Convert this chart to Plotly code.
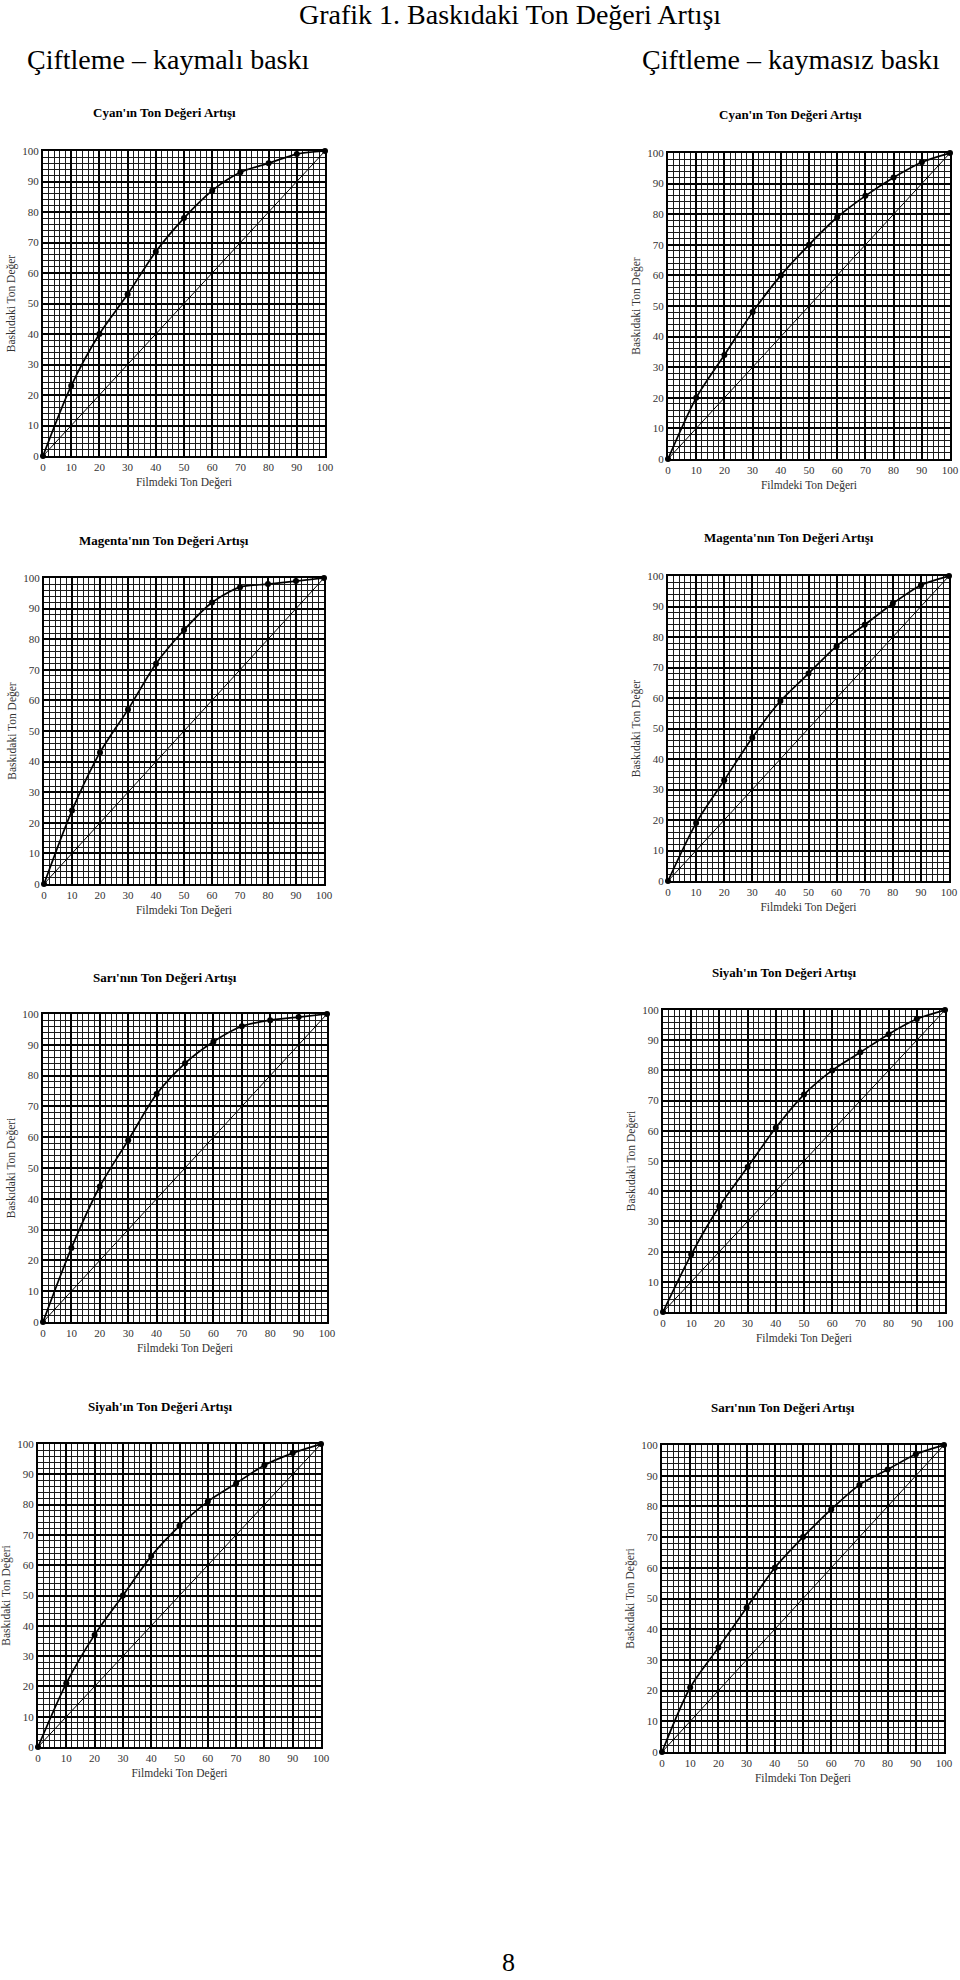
import plotly.graph_objects as go

W, H = 960, 1980

film_x = [0, 10, 20, 30, 40, 50, 60, 70, 80, 90, 100]

cyan_kaymali = [0, 23, 40, 53, 67, 78, 87, 93, 96, 99, 100]
cyan_kaymasiz = [0, 20, 34, 48, 60, 70, 79, 86, 92, 97, 100]
magenta_kaymali = [0, 24, 43, 57, 72, 83, 92, 97, 98, 99, 100]
magenta_kaymasiz = [0, 19, 33, 47, 59, 68, 77, 84, 91, 97, 100]
sari_kaymali = [0, 24, 44, 59, 74, 84, 91, 96, 98, 99, 100]
siyah_kaymasiz = [0, 19, 35, 48, 61, 72, 80, 86, 92, 97, 100]
siyah_kaymali = [0, 21, 37, 50, 63, 73, 81, 87, 93, 97, 100]
sari_kaymasiz = [0, 21, 34, 47, 60, 70, 79, 87, 92, 97, 100]

reference_line = [0, 100]

panel_titles = [
    "Cyan'ın Ton Değeri Artışı", "Cyan'ın Ton Değeri Artışı",
    "Magenta'nın Ton Değeri Artışı", "Magenta'nın Ton Değeri Artışı",
    "Sarı'nın Ton Değeri Artışı", "Siyah'ın Ton Değeri Artışı",
    "Siyah'ın Ton Değeri Artışı", "Sarı'nın Ton Değeri Artışı",
]
y_titles = [
    "Baskıdaki Ton Değer", "Baskıdaki Ton Değer",
    "Baskıdaki Ton Değer", "Baskıdaki Ton Değer",
    "Baskıdaki Ton Değeri", "Baskıdaki Ton Değeri",
    "Baskıdaki Ton Değeri", "Baskıdaki Ton Değeri",
]
x_title = "Filmdeki Ton Değeri"
series = [cyan_kaymali, cyan_kaymasiz, magenta_kaymali, magenta_kaymasiz,
          sari_kaymali, siyah_kaymasiz, siyah_kaymali, sari_kaymasiz]

# pixel boxes of each plot area: (x0, x1, ytop, ybottom)
boxes = [
    (43, 325, 151, 456), (668, 950, 153, 459),
    (44, 324, 578, 884), (668, 949, 576, 881),
    (43, 327, 1014, 1322), (663, 945, 1010, 1312),
    (38, 321, 1444, 1747), (662, 944, 1445, 1752),
]
title_pos = [
    (164, 113), (790, 115),
    (164, 540), (789, 537),
    (165, 977), (784, 972),
    (160, 1406), (783, 1407),
]

SERIF = "Liberation Serif, Times New Roman, serif"

fig = go.Figure()
layout = dict(
    width=W, height=H, margin=dict(l=0, r=0, t=0, b=0),
    paper_bgcolor="white", plot_bgcolor="white", showlegend=False,
    font=dict(family=SERIF, color="#222"),
)
annotations = []

for i, (vals, box) in enumerate(zip(series, boxes)):
    n = i + 1
    xa = "x" if n == 1 else f"x{n}"
    ya = "y" if n == 1 else f"y{n}"
    x0, x1, yt, yb = box
    axis_common = dict(
        range=[0, 100], dtick=10, tick0=0,
        showgrid=True, gridcolor="black", gridwidth=2,
        minor=dict(dtick=2, showgrid=True, gridcolor="#1a1a1a", gridwidth=1),
        showline=True, linecolor="black", linewidth=2, mirror=True,
        zeroline=False, ticks="", automargin=False,
        tickfont=dict(family=SERIF, size=11, color="#333"),
        fixedrange=True,
    )
    layout["xaxis" if n == 1 else f"xaxis{n}"] = dict(
        axis_common, domain=[x0 / W, x1 / W], anchor=ya,
        title=dict(text=x_title, font=dict(family=SERIF, size=11.5, color="#333"), standoff=6),
    )
    layout["yaxis" if n == 1 else f"yaxis{n}"] = dict(
        axis_common, domain=[1 - yb / H, 1 - yt / H], anchor=xa,
        title=dict(text=y_titles[i], font=dict(family=SERIF, size=11.5, color="#333"), standoff=4),
    )
    fig.add_trace(go.Scatter(
        x=reference_line, y=reference_line, mode="lines",
        line=dict(color="black", width=1), xaxis=xa, yaxis=ya,
        cliponaxis=False, hoverinfo="skip",
    ))
    fig.add_trace(go.Scatter(
        x=film_x, y=vals, mode="lines+markers",
        line=dict(color="black", width=1.7, shape="spline", smoothing=0.8),
        marker=dict(color="black", size=6),
        xaxis=xa, yaxis=ya, cliponaxis=False,
    ))
    tx, ty = title_pos[i]
    annotations.append(dict(
        text=f"<b>{panel_titles[i]}</b>", x=tx / W, y=1 - ty / H,
        xref="paper", yref="paper", xanchor="center", yanchor="middle",
        showarrow=False, font=dict(family=SERIF, size=13, color="black"),
    ))

annotations += [
    dict(text="Grafik 1. Baskıdaki Ton Değeri Artışı", x=510 / W, y=1 - 15 / H,
         xref="paper", yref="paper", xanchor="center", yanchor="middle",
         showarrow=False, font=dict(family=SERIF, size=28, color="black")),
    dict(text="Çiftleme – kaymalı baskı", x=25 / W, y=1 - 60 / H,
         xref="paper", yref="paper", xanchor="left", yanchor="middle",
         showarrow=False, font=dict(family=SERIF, size=28, color="black")),
    dict(text="Çiftleme – kaymasız baskı", x=942 / W, y=1 - 60 / H,
         xref="paper", yref="paper", xanchor="right", yanchor="middle",
         showarrow=False, font=dict(family=SERIF, size=28, color="black")),
    dict(text="8", x=509 / W, y=1 - 1962 / H,
         xref="paper", yref="paper", xanchor="center", yanchor="middle",
         showarrow=False, font=dict(family=SERIF, size=26, color="black")),
]
layout["annotations"] = annotations
fig.update_layout(**layout)
fig.write_html("out.html")
